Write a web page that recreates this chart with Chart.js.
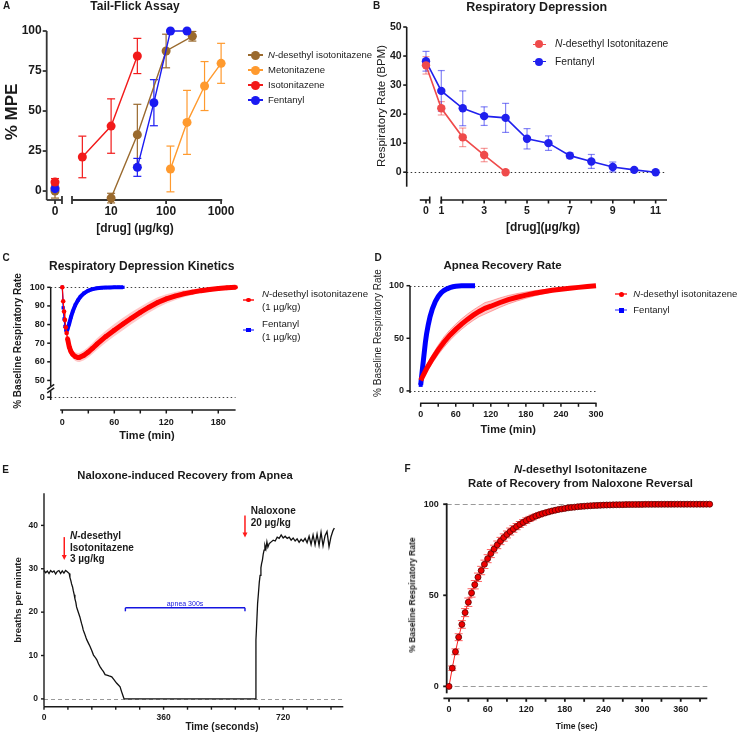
<!DOCTYPE html>
<html>
<head>
<meta charset="utf-8">
<title>N-desethyl isotonitazene pharmacology</title>
<script src="https://cdn.jsdelivr.net/npm/chart.js@4.4.1/dist/chart.umd.min.js"></script>
<style>
  html, body { margin: 0; padding: 0; background: #fff; }
  #fig { position: relative; width: 738px; height: 734px; overflow: hidden;
         font-family: 'Liberation Sans', Arial, Helvetica, sans-serif; color: #1a1a1a; }
  #fig canvas { position: absolute; }
  .t { position: absolute; white-space: nowrap; line-height: 1.15; }
</style>
</head>
<body>
<div id="fig"></div>
<script>
// ---------- data ----------
// A: tail-flick (% MPE vs dose, ug/kg)
const A_NAMES = ['<i>N</i>-desethyl isotonitazene', 'Metonitazene', 'Isotonitazene', 'Fentanyl'];
const A_NDI_DOSE = [0, 10, 30, 100, 300];
const A_NDI_MPE = [0, -4.4, 35.2, 87.5, 96.7];
const A_NDI_SEM = [4.4, 3, 19, 10.5, 3];
const A_MET_DOSE = [0, 120, 240, 500, 1000];
const A_MET_MPE = [2, 13.8, 42.9, 65.6, 79.8];
const A_MET_SEM = [2, 14.3, 20, 15.3, 12.5];
const A_ISO_DOSE = [0, 3, 10, 30];
const A_ISO_MPE = [5.6, 21.3, 40.6, 84.4];
const A_ISO_SEM = [2.2, 13, 17, 11];
const A_FEN_DOSE = [0, 30, 60, 120, 240];
const A_FEN_MPE = [1.5, 14.8, 55.2, 100, 100];
const A_FEN_SEM = [2, 5.6, 14.4, 0, 0];
const A_XTICKS = [0, 10, 100, 1000];
const A_YTICKS = [0, 25, 50, 75, 100];

// B: respiratory rate (BPM) vs dose
const B_NAMES = ['<i>N</i>-desethyl Isotonitazene', 'Fentanyl'];
const B_NDI_DOSE = [0, 1, 2, 3, 4];
const B_NDI_BPM = [36.8, 22, 12, 5.9, 0];
const B_NDI_SEM = [3, 2.3, 3.2, 2.3, 0];
const B_FEN_DOSE = [0, 1, 2, 3, 4, 5, 6, 7, 8, 9, 10, 11];
const B_FEN_BPM = [38.2, 28, 22, 19.3, 18.7, 11.5, 10, 5.7, 3.7, 1.8, 0.8, 0];
const B_FEN_SEM = [3.4, 7, 6, 3.2, 5, 3.5, 2.5, 1, 2.4, 1.7, 0, 0];
const B_XLABELS = [0, 1, 3, 5, 7, 9, 11];
const B_XMARKS = [0, 1, 2, 3, 4, 5, 6, 7, 8, 9, 10, 11];
const B_YTICKS = [0, 10, 20, 30, 40, 50];

// C: respiratory depression kinetics (% baseline vs min)
const C_NDI_T = [0, 1, 2, 3, 4, 5, 6, 8, 10, 12, 15, 18, 20, 25, 30, 35, 40, 50, 60, 70, 80, 90, 100, 110, 120, 130, 140, 150, 160, 170, 180, 190, 200];
const C_NDI_V = [100, 92.5, 87, 82.5, 78.5, 75.5, 72.5, 68, 65.5, 64, 62.8, 62.3, 62.4, 63.5, 65.2, 67.3, 69.5, 73.5, 77, 80.3, 83.5, 86.5, 89.3, 91.8, 93.8, 95.3, 96.5, 97.4, 98.2, 98.8, 99.3, 99.7, 100];
const C_NDI_SEM = [0, 0.8, 1, 1.2, 1.5, 1.7, 1.9, 2, 2.1, 2.2, 2.3, 2.4, 2.5, 2.7, 2.9, 3, 3.1, 3.2, 3.3, 3.3, 3.2, 3.1, 3, 2.8, 2.5, 2.2, 1.9, 1.6, 1.3, 1, 0.7, 0.4, 0];
const C_FEN_T = [0, 1, 2, 3, 4, 5, 6, 8, 10, 12, 15, 18, 21, 25, 30, 35, 40, 45, 50, 55, 60, 65, 70];
const C_FEN_V = [100, 89, 83, 79, 77, 76.5, 77.5, 80.5, 84, 87, 90.5, 93, 95, 96.8, 98.2, 99, 99.5, 99.7, 99.85, 99.9, 100, 100, 100];
const C_FEN_SEM = [0, 1.5, 2, 2.5, 2.8, 3, 3, 3, 2.8, 2.6, 2.3, 2, 1.7, 1.4, 1, 0.7, 0.5, 0.3, 0.2, 0.1, 0, 0, 0];
const C_XTICKS = [0, 60, 120, 180];
const C_XMARKS = [0, 30, 60, 90, 120, 150, 180];
const C_YTICKS = [0, 50, 60, 70, 80, 90, 100];

// D: apnea recovery (% baseline vs min)
const D_NDI_T = [0, 10, 20, 30, 40, 50, 60, 70, 80, 90, 100, 110, 120, 135, 150, 165, 180, 195, 210, 225, 240, 255, 270, 285, 300];
const D_NDI_V = [10, 21, 30.5, 39, 46.5, 53, 58.5, 63.5, 68, 72, 75.5, 78.5, 80.5, 83.8, 86.7, 89, 91, 92.8, 94.3, 95.6, 96.6, 97.6, 98.4, 99.2, 100];
const D_NDI_SEM = [2, 3, 4, 4.5, 5, 5, 5, 5, 5, 5, 5, 5.5, 5, 4.5, 4, 3.5, 3, 2.5, 2, 1.5, 1.2, 0.9, 0.6, 0.3, 0];
const D_FEN_T = [0, 2, 4, 6, 8, 10, 13, 16, 20, 25, 30, 35, 40, 45, 50, 55, 60, 70, 80, 93];
const D_FEN_V = [5.7, 16, 26, 36, 46, 54, 63, 70.5, 78, 85, 89.8, 93.2, 95.5, 97, 98.2, 99, 99.5, 99.9, 100, 100];
const D_XTICKS = [0, 60, 120, 180, 240, 300];
const D_XMARKS = [0, 30, 60, 90, 120, 150, 180, 210, 240, 270, 300];
const D_YTICKS = [0, 50, 100];

// E: breaths per minute trace
const E_TIME = [0, 5, 10, 15, 20, 25, 30, 35, 40, 45, 50, 55, 60, 65, 70,
  76, 78, 81, 83, 86, 88, 91, 93, 96, 98, 101, 104, 108, 111, 113, 116, 118, 122, 126, 129,
  134, 139, 144, 149, 154, 159, 164, 169, 174, 179, 184, 189, 196, 204, 210, 215, 219, 224, 229, 233, 237, 241,
  636,
  638, 641, 643, 645.5, 648, 650.5, 653, 655, 657.5, 660, 662.5, 665, 668, 671, 674, 678, 681,
  684, 690, 696, 702, 708, 714, 720, 726, 732, 738, 744, 750, 756, 762, 768, 774, 780,
  786, 792, 798, 804, 810, 816, 822, 828, 834, 840, 846, 852, 858, 864, 870, 874];
const E_BPM = [29.6, 29.1, 29.5, 28.9, 29.6, 29.2, 29.5, 28.8, 29.4, 29.6, 28.9, 29.5, 29.0, 29.6, 29.3,
  28.9, 28.0, 27.2, 26.5, 25.8, 25.0, 24.0, 23.1, 22.2, 21.2, 20.5, 19.8, 18.9, 18.0, 17.4, 16.6, 15.9, 15.1, 14.2, 13.6,
  12.8, 12.0, 11.1, 10.1, 9.6, 9.0, 8.1, 7.4, 6.8, 6.3, 5.6, 5.5, 5.3, 5.1, 4.5, 4.0, 3.6, 3.2, 2.8, 1.8, 0.9, 0,
  0,
  13.6, 18.5, 22, 24.3, 26.8, 28.5, 30.2, 31.2, 32, 33.4, 34.3, 35.4, 34.6, 36.2, 35.0, 35.8, 36.0,
  36.2, 36.6, 36.4, 37.3, 37.0, 37.8, 37.1, 37.5, 37.0, 37.3, 36.6, 37.1, 36.4, 36.9, 36.1, 36.8, 36.3,
  37.0, 36.0, 37.5, 35.6, 37.8, 35.5, 38.0, 35.4, 38.4, 35.3, 37.6, 38.6, 35.1, 37.4, 38.8, 39.4];
const E_XTICKS = [0, 360, 720];
const E_XMARKS = [0, 72, 144, 216, 288, 360, 432, 504, 576, 648, 720, 792, 864];
const E_YTICKS = [0, 10, 20, 30, 40];
const E_ARROWS = [{ t: 61, from: 37.3, to: 32 }, { t: 605, from: 42.3, to: 37.2 }];
const E_APNEA = { from: 245, to: 605, at: 21 };

// F: recovery after naloxone (% baseline vs sec)
const F_TIME = [0, 5, 10, 15, 20, 25, 30, 35, 40, 45, 50, 55, 60, 65, 70, 75, 80, 85, 90, 95,
  100, 105, 110, 115, 120, 125, 130, 135, 140, 145, 150, 155, 160, 165, 170, 175, 180, 185, 190, 195,
  200, 205, 210, 215, 220, 225, 230, 235, 240, 245, 250, 255, 260, 265, 270, 275, 280, 285, 290, 295,
  300, 305, 310, 315, 320, 325, 330, 335, 340, 345, 350, 355, 360, 365, 370, 375, 380, 385, 390, 395, 400, 405];
const F_RATE = [0, 10, 19, 27, 34, 40.5, 46.2, 51.3, 55.8, 59.9,
  63.6, 67, 70.1, 72.9, 75.4, 77.7, 79.8, 81.7, 83.4, 85,
  86.4, 87.7, 88.9, 90, 91, 91.9, 92.7, 93.5, 94.2, 94.8,
  95.3, 95.8, 96.3, 96.7, 97.1, 97.4, 97.7, 98, 98.2, 98.4,
  98.6, 98.8, 98.9, 99.05, 99.15, 99.25, 99.35, 99.42, 99.5, 99.55,
  99.6, 99.65, 99.7, 99.73, 99.76, 99.8, 99.82, 99.84, 99.86, 99.88,
  99.9, 99.91, 99.92, 99.93, 99.94, 99.95, 99.95, 99.96, 99.96, 99.97,
  99.97, 99.98, 99.98, 99.98, 99.99, 99.99, 99.99, 99.99, 100, 100, 100, 100];
const F_SEM = [0, 1.2, 1.6, 1.9, 2.1, 2.2, 2.3, 2.3, 2.3, 2.3,
  2.3, 2.3, 2.2, 2.2, 2.1, 2.1, 2, 2, 1.9, 1.9,
  1.8, 1.7, 1.6, 1.5, 1.5, 1.4, 1.3, 1.2, 1.2, 1.1,
  1, 1, 0.9, 0.9, 0.8, 0.7, 0.7, 0.6, 0.6, 0.6,
  0.5, 0.5, 0.5, 0.4, 0.4, 0.4, 0.3, 0.3, 0.3, 0.3,
  0.3, 0.2, 0.2, 0.2, 0.2, 0.2, 0.2, 0.1, 0.1, 0.1,
  0.1, 0.1, 0.1, 0.1, 0.1, 0.1, 0.1, 0.1, 0.1, 0.1,
  0.1, 0.1, 0, 0, 0, 0, 0, 0, 0, 0, 0, 0];
const F_XTICKS = [0, 60, 120, 180, 240, 300, 360];
const F_XMARKS = [0, 30, 60, 90, 120, 150, 180, 210, 240, 270, 300, 330, 360, 390];
const F_YTICKS = [0, 50, 100];

// ---------- helpers ----------
const FONT = "'Liberation Sans', Arial, Helvetica, sans-serif";
Chart.defaults.font.family = FONT;
Chart.defaults.color = '#1a1a1a';
const fig = document.getElementById('fig');

function addText(html, x, y, css, rotate) {
  const d = document.createElement('div');
  d.className = 't';
  d.innerHTML = html;
  d.style.cssText += `left:${x}px;top:${y}px;${css || ''}`;
  d.style.transform = 'translate(-50%, -50%)' + (rotate ? ' rotate(-90deg)' : '');
  fig.appendChild(d);
}
function addTextLeft(html, x, y, css) {
  const d = document.createElement('div');
  d.className = 't';
  d.innerHTML = html;
  d.style.cssText += `left:${x}px;top:${y}px;${css || ''}`;
  d.style.transform = 'translate(0, -50%)';
  fig.appendChild(d);
}
function addKey(x, y, color, lineColor, shape, r, lineW, html, textX, css) {
  const ln = document.createElement('div');
  ln.style.cssText = `position:absolute;left:${x}px;top:${y - 0.75}px;width:${lineW}px;height:1.5px;background:${lineColor}`;
  fig.appendChild(ln);
  const mk = document.createElement('div');
  mk.style.cssText = `position:absolute;left:${x + lineW / 2 - r}px;top:${y - r}px;width:${2 * r}px;height:${2 * r}px;background:${color};border-radius:${shape === 'circle' ? '50%' : '0'}`;
  fig.appendChild(mk);
  addTextLeft(html, textX, y, css);
}

function seg(ctx, x1, y1, x2, y2) { ctx.beginPath(); ctx.moveTo(x1, y1); ctx.lineTo(x2, y2); ctx.stroke(); }

// axes, guide lines and error bars drawn through the chart scales
function decoPlugin(cfg) {
  return {
    id: 'deco',
    beforeDatasetsDraw(chart) {
      const { ctx, chartArea: ca, scales: { x, y } } = chart;
      ctx.save();
      (cfg.guides || []).forEach(g => {
        ctx.strokeStyle = g.color; ctx.lineWidth = 1; ctx.setLineDash(g.dash);
        const py = Math.round(y.getPixelForValue(g.y)) + 0.5;
        seg(ctx, x.getPixelForValue(g.from), py, x.getPixelForValue(g.to), py);
      });
      ctx.setLineDash([]);
      ctx.strokeStyle = cfg.axisColor; ctx.lineWidth = cfg.axisWidth;
      const xa = cfg.xAxis, ay = ca.bottom + (xa.offset || 0);
      xa.segments.forEach(s => seg(ctx, x.getPixelForValue(s[0]), ay, x.getPixelForValue(s[1]), ay));
      xa.marks.forEach(v => { const px = x.getPixelForValue(v); seg(ctx, px, ay, px, ay + xa.tick); });
      (xa.caps || []).forEach(v => { const px = x.getPixelForValue(v); seg(ctx, px, ay - xa.tick, px, ay + xa.tick); });
      const ya = cfg.yAxis, ax = ca.left;
      ya.segments.forEach(s => seg(ctx, ax, y.getPixelForValue(s[0]), ax, y.getPixelForValue(s[1])));
      ya.marks.forEach(v => { const py = y.getPixelForValue(v); seg(ctx, ax - ya.tick, py, ax, py); });
      (ya.slashes || []).forEach(v => { const py = y.getPixelForValue(v); seg(ctx, ax - 3.5, py + 2.5, ax + 3.5, py - 2.5); });
      chart.data.datasets.forEach(ds => {
        if (!ds.errorBars) return;
        ctx.strokeStyle = ds.errorColor; ctx.lineWidth = ds.errorWidth || 1.2;
        ds.data.forEach((p, j) => {
          const e = ds.errorBars[j];
          if (!e) return;
          const px = x.getPixelForValue(p.x);
          const top = y.getPixelForValue(p.y + e), bot = y.getPixelForValue(p.y - e);
          const w = ds.capHalf;
          seg(ctx, px, top, px, bot);
          seg(ctx, px - w, top, px + w, top);
          seg(ctx, px - w, bot, px + w, bot);
        });
      });
      ctx.restore();
    },
    afterDatasetsDraw(chart) { if (cfg.after) cfg.after(chart); }
  };
}

function axis(min, max, ticks, labels, size, pad) {
  return {
    type: 'linear', min, max,
    grid: { display: false, drawTicks: false, tickLength: 0 }, border: { display: false },
    afterBuildTicks: s => { s.ticks = ticks.map(v => ({ value: v })); },
    ticks: {
      autoSkip: false, maxRotation: 0, minRotation: 0, padding: pad, color: '#1a1a1a',
      font: { size, weight: 'bold' }, callback: (v, i) => labels[i]
    }
  };
}

// area = chart area inset inside the canvas: {left, top, right, bottom}
function makeChart(box, area, xS, yS, datasets, cfg) {
  const cv = document.createElement('canvas');
  cv.width = box[2]; cv.height = box[3];
  cv.style.left = box[0] + 'px'; cv.style.top = box[1] + 'px';
  cv.style.width = box[2] + 'px'; cv.style.height = box[3] + 'px';
  fig.appendChild(cv);
  xS.afterFit = s => { s.height = area.bottom; };
  yS.afterFit = s => { s.width = area.left; };
  return new Chart(cv.getContext('2d'), {
    type: 'line',
    data: { datasets },
    options: {
      responsive: false, animation: false, devicePixelRatio: 1, events: [],
      layout: { padding: { left: 0, bottom: 0, top: area.top, right: area.right } },
      plugins: { legend: { display: false }, tooltip: { enabled: false } },
      elements: { line: { tension: 0 } },
      scales: { x: xS, y: yS }
    },
    plugins: [decoPlugin(cfg)]
  });
}

const pts = (xs, ys, fx) => xs.map((v, i) => ({ x: fx ? fx(v) : v, y: ys[i] }));
const band = (xs, ys, es, sign) => xs.map((v, i) => ({ x: v, y: ys[i] + sign * es[i] }));
const strs = a => a.map(String);
const hide = 'rgba(0,0,0,0)';

// ---------- A ----------
const uA = d => d === 0 ? 0 : Math.log10(d) + 0.02;   // broken log axis
const A_COLORS = ['#9a6a2e', '#ff9a2e', '#f21a1a', '#1a1af2'];
const A_ORDER = [3, 2, 0, 1];                         // red on top, brown underneath
const A_SETS = [[A_NDI_DOSE, A_NDI_MPE, A_NDI_SEM], [A_MET_DOSE, A_MET_MPE, A_MET_SEM],
                [A_ISO_DOSE, A_ISO_MPE, A_ISO_SEM], [A_FEN_DOSE, A_FEN_MPE, A_FEN_SEM]];
makeChart([0, 0, 370, 240], { left: 46.7, top: 31, right: 147.8, bottom: 40 },
  axis(-0.151, 3.04, A_XTICKS.map(uA), strs(A_XTICKS), 12, 4),
  axis(-5.6, 100, A_YTICKS, strs(A_YTICKS), 12, 5),
  A_SETS.map(([d, v, e], k) => ({
    data: pts(d, v, uA), errorBars: e, errorColor: A_COLORS[k], capHalf: 4, order: A_ORDER[k],
    borderColor: A_COLORS[k], backgroundColor: A_COLORS[k], borderWidth: 1.4,
    pointRadius: 4.5, pointBorderWidth: 0, clip: false,
    segment: { borderColor: c => c.p0DataIndex === 0 ? hide : undefined }
  })),
  { axisColor: '#333', axisWidth: 1.8,
    xAxis: { segments: [[-0.151, 0.127], [0.309, 3.04]], marks: A_XTICKS.map(uA), caps: [0.127, 0.309], tick: 4 },
    yAxis: { segments: [[-5.6, 100]], marks: A_YTICKS, tick: 4 } });

// ---------- B ----------
const uB = d => d === 0 ? 0.286 : d;                  // broken linear axis
const B_COLORS = ['#ef4b4b', '#2020ee'];
const B_ERR = ['rgba(239,75,75,0.55)', 'rgba(32,32,238,0.55)'];
const B_SETS = [[B_NDI_DOSE, B_NDI_BPM, B_NDI_SEM], [B_FEN_DOSE, B_FEN_BPM, B_FEN_SEM]];
makeChart([370, 0, 368, 240], { left: 36.7, top: 27, right: 71, bottom: 53.3 },
  axis(-0.614, 11.53, B_XLABELS.map(uB), strs(B_XLABELS), 10.5, 18),
  axis(-5, 50, B_YTICKS, strs(B_YTICKS), 10.5, 5),
  B_SETS.map(([d, v, e], k) => ({
    data: pts(d, v, uB), errorBars: e, errorColor: B_ERR[k], capHalf: 3.5,
    borderColor: B_COLORS[k], backgroundColor: B_COLORS[k], borderWidth: 1.6,
    pointRadius: 4.2, pointBorderWidth: 0, clip: false
  })),
  { axisColor: '#1a1a1a', axisWidth: 1.6,
    guides: [{ y: 0, from: -0.614, to: 11.5, dash: [1.5, 2.5], color: '#333' }],
    xAxis: { offset: 13.3, segments: [[-0.004, 0.46], [1, 11.53]], marks: B_XMARKS.map(uB), caps: [0.46, 1], tick: 3.5 },
    yAxis: { segments: [[-5, 50]], marks: B_YTICKS, tick: 3.5 } });

// ---------- C ----------
const vC = v => v >= 45 ? v : v + 41;                 // broken y axis (0 sits just below 50)
makeChart([0, 240, 370, 205], { left: 50.7, top: 47.3, right: 134.4, bottom: 45 },
  axis(-13.4, 200, C_XTICKS, strs(C_XTICKS), 9, 17.3),
  axis(39.5, 100, C_YTICKS.map(vC), strs(C_YTICKS), 9, 6),
  [
    { data: pts(C_NDI_T, C_NDI_V), borderColor: '#ff0000', backgroundColor: '#ff0000', borderWidth: 5,
      pointRadius: 2.3, pointBorderWidth: 0, clip: false,
      segment: { borderWidth: c => c.p1.parsed.x <= 6 ? 1.2 : undefined } },
    { data: pts(C_FEN_T, C_FEN_V), borderColor: '#0000ff', backgroundColor: '#0000ff', borderWidth: 4,
      pointStyle: 'rect', pointRadius: 2.3, pointBorderWidth: 0, clip: false,
      segment: { borderWidth: c => c.p1.parsed.x <= 5 ? 1.2 : undefined } },
    { data: band(C_NDI_T, C_NDI_V, C_NDI_SEM, 1), borderWidth: 0, borderColor: hide, pointRadius: 0 },
    { data: band(C_NDI_T, C_NDI_V, C_NDI_SEM, -1), borderWidth: 0, borderColor: hide, pointRadius: 0,
      fill: '-1', backgroundColor: 'rgba(255,60,60,0.28)' },
    { data: band(C_FEN_T, C_FEN_V, C_FEN_SEM, 1), borderWidth: 0, borderColor: hide, pointRadius: 0 },
    { data: band(C_FEN_T, C_FEN_V, C_FEN_SEM, -1), borderWidth: 0, borderColor: hide, pointRadius: 0,
      fill: '-1', backgroundColor: 'rgba(70,70,255,0.3)' }
  ],
  { axisColor: '#1a1a1a', axisWidth: 1.5,
    guides: [{ y: 100, from: -13.4, to: 200, dash: [1.5, 2.5], color: '#444' },
             { y: vC(0), from: -13.4, to: 200, dash: [1.5, 2.5], color: '#444' }],
    xAxis: { offset: 10, segments: [[-2.5, 200]], marks: C_XMARKS, tick: 3.5 },
    yAxis: { segments: [[47, 100], [39.5, 44.3]], marks: C_YTICKS.map(vC), slashes: [46.6, 44.7], tick: 3.5 } });

// ---------- D ----------
makeChart([370, 240, 368, 205], { left: 40, top: 45.7, right: 142, bottom: 52 },
  axis(-18.3, 300, D_XTICKS, strs(D_XTICKS), 9, 15.9),
  axis(-2, 100, D_YTICKS, strs(D_YTICKS), 9, 6),
  [
    { data: pts(D_NDI_T, D_NDI_V), borderColor: '#ff0000', backgroundColor: '#ff0000', borderWidth: 5,
      pointRadius: 0, clip: false },
    { data: pts(D_FEN_T, D_FEN_V), borderColor: '#0000ff', backgroundColor: '#0000ff', borderWidth: 5,
      pointStyle: 'rect', pointRadius: c => c.dataIndex === 0 ? 2.8 : 0, pointBorderWidth: 0, clip: false },
    { data: band(D_NDI_T, D_NDI_V, D_NDI_SEM, 1), borderWidth: 0.8, borderColor: 'rgba(255,80,80,0.6)', pointRadius: 0 },
    { data: band(D_NDI_T, D_NDI_V, D_NDI_SEM, -1), borderWidth: 0.8, borderColor: 'rgba(255,80,80,0.6)', pointRadius: 0,
      fill: '-1', backgroundColor: 'rgba(255,60,60,0.28)' }
  ],
  { axisColor: '#1a1a1a', axisWidth: 1.5,
    guides: [{ y: 100, from: -18.3, to: 300, dash: [1.5, 2.5], color: '#444' },
             { y: 0, from: -18.3, to: 300, dash: [1.5, 2.5], color: '#444' }],
    xAxis: { offset: 10.3, segments: [[-1, 301]], marks: D_XMARKS, tick: 3.5 },
    yAxis: { segments: [[-2, 100]], marks: D_YTICKS, tick: 3.5 } });

// ---------- E ----------
makeChart([0, 445, 370, 289], { left: 44, top: 48.3, right: 26.7, bottom: 27.3 },
  axis(0, 901, E_XTICKS, strs(E_XTICKS), 8.5, 5.5),
  axis(-1.8, 47.4, E_YTICKS, strs(E_YTICKS), 8.5, 6),
  [{ data: pts(E_TIME, E_BPM), borderColor: '#111', borderWidth: 1.3, pointRadius: 0, clip: false }],
  { axisColor: '#1a1a1a', axisWidth: 1.4,
    guides: [{ y: 0, from: 0, to: 901, dash: [4, 3], color: '#9a9a9a' }],
    xAxis: { segments: [[0, 901]], marks: E_XMARKS, tick: 3 },
    yAxis: { segments: [[-1.8, 47.4]], marks: E_YTICKS, tick: 3 },
    after(chart) {
      const { ctx, scales: { x, y } } = chart;
      ctx.save();
      ctx.strokeStyle = '#ff1a1a'; ctx.fillStyle = '#ff1a1a'; ctx.lineWidth = 1.5;
      E_ARROWS.forEach(a => {
        const px = x.getPixelForValue(a.t), y0 = y.getPixelForValue(a.from), y1 = y.getPixelForValue(a.to);
        seg(ctx, px, y0, px, y1 - 4);
        ctx.beginPath(); ctx.moveTo(px - 2.5, y1 - 5); ctx.lineTo(px + 2.5, y1 - 5); ctx.lineTo(px, y1); ctx.closePath(); ctx.fill();
      });
      ctx.strokeStyle = '#1515e0'; ctx.lineWidth = 1.4;
      const bx0 = x.getPixelForValue(E_APNEA.from), bx1 = x.getPixelForValue(E_APNEA.to), by = y.getPixelForValue(E_APNEA.at);
      seg(ctx, bx0, by, bx1, by);
      seg(ctx, bx0, by, bx0, by + 3.5);
      seg(ctx, bx1, by, bx1, by + 3.5);
      ctx.restore();
    } });

// ---------- F ----------
makeChart([370, 445, 368, 289], { left: 76.7, top: 58.3, right: 30.7, bottom: 40.7 },
  axis(-3.6, 401.3, F_XTICKS, strs(F_XTICKS), 9, 11.3),
  axis(-3.8, 100.5, F_YTICKS, strs(F_YTICKS), 9, 8),
  [{ data: pts(F_TIME, F_RATE), errorBars: F_SEM, errorColor: 'rgba(255,40,40,0.75)', capHalf: 4, errorWidth: 1,
     borderColor: '#ff2020', borderWidth: 1, backgroundColor: '#ee0000', pointBorderColor: '#5a0000',
     pointBorderWidth: 0.8, pointRadius: 3, clip: false }],
  { axisColor: '#1a1a1a', axisWidth: 1.8,
    guides: [{ y: 100, from: -3.6, to: 401.3, dash: [5, 3], color: '#9a9a9a' },
             { y: 0, from: -3.6, to: 401.3, dash: [5, 3], color: '#9a9a9a' }],
    xAxis: { offset: 5, segments: [[-8.7, 401.3]], marks: F_XMARKS, tick: 3.5 },
    yAxis: { segments: [[-3.8, 100.5]], marks: F_YTICKS, tick: 3.5 } });

// ---------- text ----------
const bold = 'font-weight:bold;';
[['A', 6.5, 5.5], ['B', 376.5, 5.5], ['C', 6, 258], ['D', 378, 258], ['E', 5.5, 470], ['F', 407.5, 469]]
  .forEach(([s, x, y]) => addText(s, x, y, bold + 'font-size:10px;'));

addText('Tail-Flick Assay', 135, 7, bold + 'font-size:12px;');
addText('Respiratory Depression', 536.7, 7, bold + 'font-size:12.5px;');
addText('Respiratory Depression Kinetics', 141.7, 267.3, bold + 'font-size:12px;');
addText('Apnea Recovery Rate', 502.5, 266, bold + 'font-size:11.5px;');
addText('Naloxone-induced Recovery from Apnea', 185, 475, bold + 'font-size:11.2px;');
addText('<i>N</i>-desethyl Isotonitazene', 580.5, 469.3, bold + 'font-size:11.3px;');
addText('Rate of Recovery from Naloxone Reversal', 580.5, 483.3, bold + 'font-size:11.3px;');

addText('% MPE', 12, 112, bold + 'font-size:17px;', true);
addText('[drug] (µg/kg)', 135, 229, bold + 'font-size:12px;');
addText('Respiratory Rate (BPM)', 381.7, 106, 'font-size:11.5px;', true);
addText('[drug](µg/kg)', 543, 228, bold + 'font-size:12px;');
addText('% Baseline Respiratory Rate', 18.3, 341, bold + 'font-size:10px;', true);
addText('Time (min)', 147, 435, bold + 'font-size:11px;');
addText('% Baseline Respiratory Rate', 378, 333, 'font-size:10px;', true);
addText('Time (min)', 508.3, 429, bold + 'font-size:11px;');
addText('breaths per minute', 18, 600, bold + 'font-size:9.5px;', true);
addText('Time (seconds)', 222, 726.7, bold + 'font-size:10px;');
addText('% Baseline Respiratory Rate', 412.7, 595, bold + 'font-size:8.5px;', true);
addText('Time (sec)', 576.7, 726.7, bold + 'font-size:8.5px;');

// E annotations
addTextLeft('<i>N</i>-desethyl', 70, 536, bold + 'font-size:10px;');
addTextLeft('Isotonitazene', 70, 547.7, bold + 'font-size:10px;');
addTextLeft('3 µg/kg', 70, 559.3, bold + 'font-size:10px;');
addTextLeft('Naloxone', 250.7, 511, bold + 'font-size:10px;');
addTextLeft('20 µg/kg', 250.7, 522.7, bold + 'font-size:10px;');
addText('apnea 300s', 185, 604, 'font-size:7px;color:#1515e0;');

// legends
A_NAMES.forEach((n, k) => addKey(248, 55 + 15 * k, A_COLORS[k], A_COLORS[k], 'circle', 4.5, 15, n, 268, 'font-size:9.5px;'));
B_NAMES.forEach((n, k) => addKey(532.7, 44.3 + 17.4 * k, B_COLORS[k], B_COLORS[k], 'circle', 4, 13, n, 555, 'font-size:10.3px;'));
addKey(243, 300, '#ff0000', '#ff5050', 'circle', 2.3, 11, '<i>N</i>-desethyl isotonitazene<br>(1 µg/kg)', 262, 'font-size:9.7px;line-height:13.3px;');
addKey(243, 330, '#0000ff', '#8080ff', 'rect', 2.3, 11, 'Fentanyl<br>(1 µg/kg)', 262, 'font-size:9.7px;line-height:13px;');
addKey(615, 294, '#ff0000', '#ff6060', 'circle', 2.5, 12, '<i>N</i>-desethyl isotonitazene', 633.3, 'font-size:9.5px;');
addKey(615, 310, '#0000ff', '#9090ff', 'rect', 2.5, 12, 'Fentanyl', 633.3, 'font-size:9.5px;');
</script>
</body>
</html>
